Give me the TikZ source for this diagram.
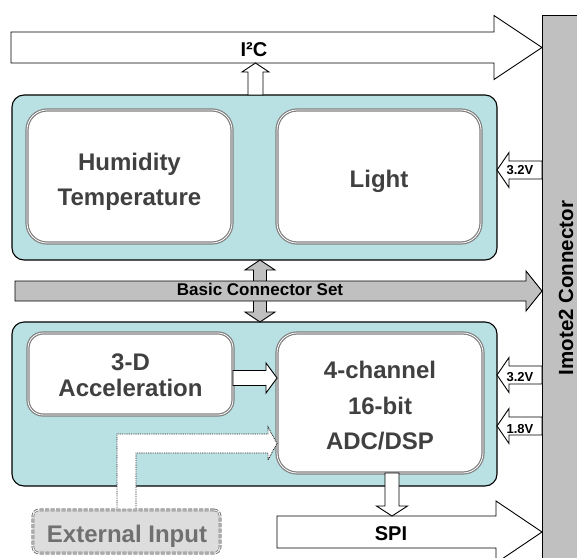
\documentclass[tikz,border=0pt]{standalone}
\usepackage{fontspec}
\setmainfont{Liberation Sans}
\usetikzlibrary{calc}

\definecolor{panelfill}{RGB}{185,224,226}
\definecolor{busgray}{RGB}{192,192,192}
\definecolor{boxedge}{RGB}{128,128,128}
\definecolor{boxtext}{RGB}{64,64,64}
\definecolor{extfill}{RGB}{221,221,221}
\definecolor{exttext}{RGB}{112,112,112}

% Block arrow from #2 to #3: shaft half width #4, head half width #5, head length #6 (all pt)
\newcommand\blockarrow[6][]{%
  \draw[#1] let \p1=(#2), \p2=(#3),
    \n1={atan2(\y2-\y1,\x2-\x1)}, \n2={veclen(\x2-\x1,\y2-\y1)} in
    [shift={(\p1)}, rotate=\n1]
    (0pt,-#4pt) -- ({\n2-#6pt},-#4pt) -- ({\n2-#6pt},-#5pt) -- ({\n2},0pt)
    -- ({\n2-#6pt},#5pt) -- ({\n2-#6pt},#4pt) -- (0pt,#4pt) -- cycle;
}
% Block arrow with a head at both ends
\newcommand\dblockarrow[6][]{%
  \draw[#1] let \p1=(#2), \p2=(#3),
    \n1={atan2(\y2-\y1,\x2-\x1)}, \n2={veclen(\x2-\x1,\y2-\y1)} in
    [shift={(\p1)}, rotate=\n1]
    (0pt,0pt) -- (#6pt,-#5pt) -- (#6pt,-#4pt) -- ({\n2-#6pt},-#4pt) -- ({\n2-#6pt},-#5pt)
    -- ({\n2},0pt) -- ({\n2-#6pt},#5pt) -- ({\n2-#6pt},#4pt) -- (#6pt,#4pt)
    -- (#6pt,#5pt) -- cycle;
}

\tikzset{
  panel/.style={draw=black, line width=1.1pt, fill=panelfill, rounded corners=12pt,
    inner sep=0pt, outer sep=0pt},
  module/.style={draw=boxedge, line width=1.2pt, double=white, double distance=0.8pt,
    fill=white, rounded corners=20pt, inner sep=0pt, outer sep=0pt},
  lbl/.style={text=boxtext, font=\bfseries\fontsize{24}{35}\selectfont, align=center,
    inner sep=0pt},
  connbar/.style={draw=black, line width=1pt, fill=busgray, inner sep=0pt, outer sep=0pt},
  barlbl/.style={font=\bfseries\fontsize{20.5}{24}\selectfont, inner sep=0pt},
  busarrow/.style={draw=black, line width=0.9pt, fill=white, line join=miter},
  grayarrow/.style={busarrow, fill=busgray},
  buslbl/.style={font=\bfseries\fontsize{20}{24}\selectfont, inner sep=0pt},
  voltlbl/.style={font=\bfseries\fontsize{13}{15}\selectfont, inner sep=0pt},
  extbox/.style={draw=boxedge, line width=0.9pt, double=white, double distance=0.8pt,
    dash pattern=on 4pt off 1.5pt, fill=extfill, rounded corners=6pt,
    inner sep=0pt, outer sep=0pt},
  extflow/.style={draw=black!85, line width=0.9pt, dash pattern=on 0.9pt off 0.9pt, fill=white},
}

\begin{document}
\begin{tikzpicture}[x=1pt,y=-1pt]
\useasboundingbox (0,0) rectangle (577,557);
\clip (0,0) rectangle (577,557);

% Imote2 connector bar
\node[connbar, minimum width=70pt, minimum height=585pt] (bar) at (577,307.5) {};
\node[barlbl, rotate=90] (barname) at (566,288) {Imote2 Connector};

% Sensor board: humidity/temperature and light
\node[panel, minimum width=485pt, minimum height=165pt] (envpanel) at (254.5,177.5) {};
\node[module, minimum width=205pt, minimum height=133pt] (hum) at (129.5,176.5) {};
\node[lbl] (humtxt) at (129.5,181.5) {Humidity\\Temperature};
\node[module, minimum width=204pt, minimum height=133pt] (light) at (379,176.5) {};
\node[lbl] (lighttxt) at (379,181) {Light};

% Sensor board: acceleration and ADC
\node[panel, minimum width=485pt, minimum height=164pt] (motpanel) at (254.5,404) {};
\node[module, rounded corners=15pt, minimum width=205pt, minimum height=82pt] (acc) at (130.5,374) {};
\node[lbl, font=\bfseries\fontsize{24}{26}\selectfont] (acctxt) at (130.5,375.5) {3-D\\Acceleration};
\node[module, minimum width=206pt, minimum height=140pt] (adc) at (380,403) {};
\node[lbl, font=\bfseries\fontsize{24}{35.5}\selectfont] (adctxt) at (380,406) {4-channel\\16-bit\\ADC/DSP};

% External input source
\node[extbox, minimum width=187pt, minimum height=43pt] (extin) at (126.5,531.5) {};

% Reference points for the arrows
\coordinate (i2ctail) at (11,47.5);
\coordinate (i2cfoot) at (255.5,63);
\coordinate (bustail) at (15,291);
\coordinate (busx) at (260,0);
\coordinate (spitail) at (277,532);
\coordinate (spix) at (392,0);
\coordinate (spitop) at (392,516);
\coordinate (v1) at (0,170);
\coordinate (v2) at (0,375);
\coordinate (v3) at (0,426);
\coordinate (accy) at (0,378);
\coordinate (extlvl) at (0,443.5);

% I2C bus
\blockarrow[busarrow]{i2ctail}{bar.west |- i2ctail}{15.5}{32}{48}
\node[buslbl] (i2clbl) at (254,49.5) {I²C};
\blockarrow[busarrow]{envpanel.north -| i2cfoot}{i2cfoot}{7.5}{13.5}{9}

% Basic connector set
\dblockarrow[grayarrow]{envpanel.south -| busx}{motpanel.north -| busx}{6.5}{15}{10}
\blockarrow[grayarrow]{bustail}{bar.west |- bustail}{10}{20}{16}
\node[buslbl, font=\bfseries\fontsize{17}{20}\selectfont] (buslbl) at (260,289.5) {Basic Connector Set};

% Supply voltages
\blockarrow[busarrow]{bar.west |- v1}{envpanel.east |- v1}{9}{17.5}{12}
\node[voltlbl] (v1lbl) at (520,170.5) {3.2V};
\blockarrow[busarrow]{bar.west |- v2}{motpanel.east |- v2}{9}{17.5}{12}
\node[voltlbl] (v2lbl) at (520,377.5) {3.2V};
\blockarrow[busarrow]{bar.west |- v3}{motpanel.east |- v3}{9}{17.5}{12}
\node[voltlbl] (v3lbl) at (520,429) {1.8V};

% Acceleration to ADC
\blockarrow[busarrow]{acc.east |- accy}{adc.west |- accy}{7.5}{15}{11}

% External input path into the ADC
\draw[extflow] let \p1=(extin.north), \p2=(adc.west |- extlvl) in
  (\x1-9.5pt,\y1) -- (\x1-9.5pt,\y2+9.5pt) -- (\x2-9pt,\y2+9.5pt) -- (\x2-9pt,\y2+16.5pt)
  -- (\p2) -- (\x2-9pt,\y2-16.5pt) -- (\x2-9pt,\y2-9.5pt) -- (\x1+9.5pt,\y2-9.5pt)
  -- (\x1+9.5pt,\y1) -- cycle;
\node[extbox, minimum width=187pt, minimum height=43pt] at (extin) {};
\node[lbl, text=exttext] (exttxt) at (127,536) {External Input};

% SPI bus
\blockarrow[busarrow]{spitail}{bar.west |- spitail}{16}{31}{46}
\node[buslbl] (spilbl) at (391,533.3) {SPI};
\blockarrow[busarrow]{adc.south -| spix}{spitop}{7}{15.5}{10}
\end{tikzpicture}
\end{document}
